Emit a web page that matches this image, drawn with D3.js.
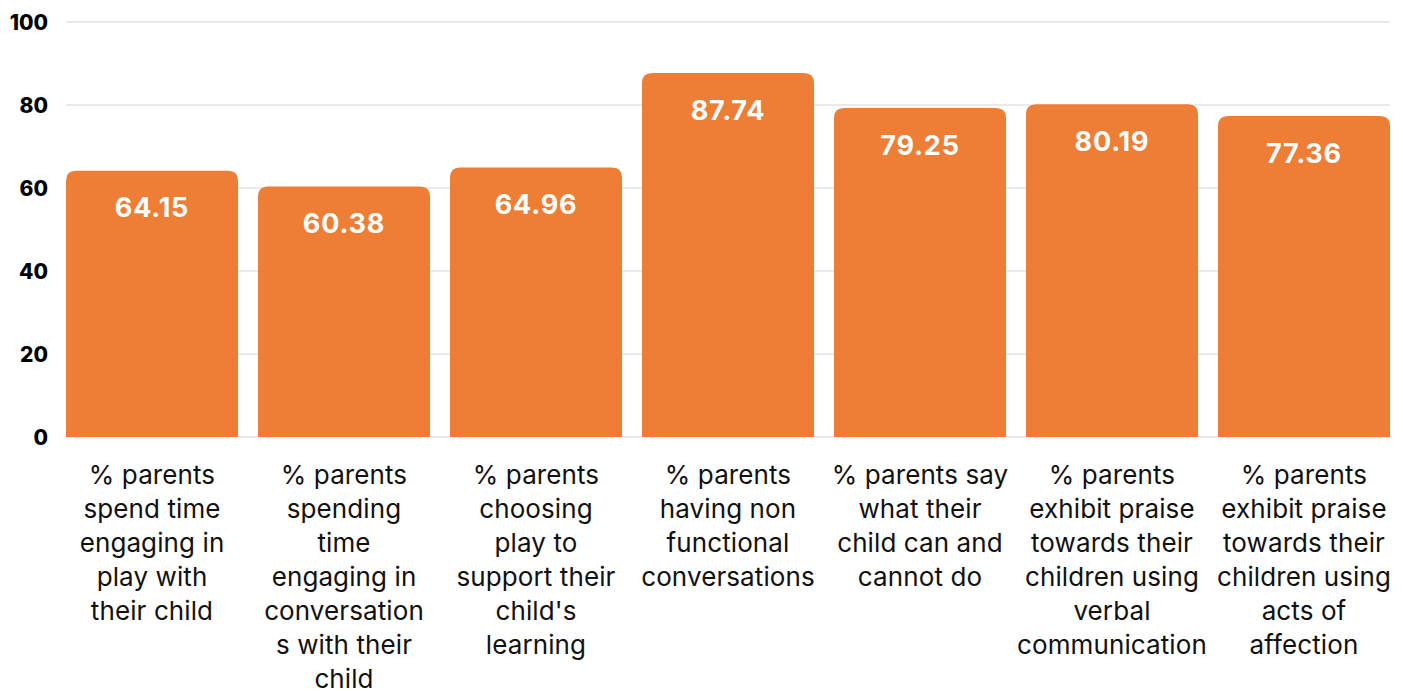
<!DOCTYPE html>
<html>
<head>
<meta charset="utf-8">
<script src="https://cdn.jsdelivr.net/npm/d3@7"></script>
<style>
  html, body { margin: 0; padding: 0; background: #ffffff; }
  svg { display: block; font-family: Inter, "Noto Sans", sans-serif; }
</style>
</head>
<body>
<svg id="chart" width="1403" height="691"></svg>
<script>
// Category labels, already broken into the lines they are shown on
const categories = [
  "% parents\nspend time\nengaging in\nplay with\ntheir child",
  "% parents\nspending\ntime\nengaging in\nconversation\ns with their\nchild",
  "% parents\nchoosing\nplay to\nsupport their\nchild's\nlearning",
  "% parents\nhaving non\nfunctional\nconversations",
  "% parents say\nwhat their\nchild can and\ncannot do",
  "% parents\nexhibit praise\ntowards their\nchildren using\nverbal\ncommunication",
  "% parents\nexhibit praise\ntowards their\nchildren using\nacts of\naffection"
];
const values = [64.15, 60.38, 64.96, 87.74, 79.25, 80.19, 77.36];
const yTicks = [0, 20, 40, 60, 80, 100];

const svg = d3.select("#chart");
const margin = { left: 66, right: 13, top: 22, bottom: 254 };
const W = 1403, H = 691;

const x = d3.scaleBand()
  .domain(categories)
  .range([margin.left, W - margin.right])
  .paddingInner(0.104)
  .paddingOuter(0);

const y = d3.scaleLinear()
  .domain([0, 100])
  .range([H - margin.bottom, margin.top]);

// horizontal gridlines
svg.append("g")
  .selectAll("line")
  .data(yTicks)
  .join("line")
  .attr("x1", margin.left)
  .attr("x2", W - margin.right)
  .attr("y1", d => y(d))
  .attr("y2", d => y(d))
  .attr("stroke", "#d6d6d6")
  .attr("stroke-width", 1.2);

// y tick labels
svg.append("g")
  .selectAll("text")
  .data(yTicks)
  .join("text")
  .attr("x", 48)
  .attr("y", d => y(d))
  .attr("dy", "0.36em")
  .attr("text-anchor", "end")
  .attr("font-size", 21)
  .attr("font-weight", 800)
  .attr("fill", "#000")
  .text(d => d);

// bars with rounded top corners
const r = 10;
function barPath(d, i) {
  const x0 = x(categories[i]);
  const x1 = x0 + x.bandwidth();
  const y0 = y(0);
  const yt = y(d);
  return `M${x0},${y0} L${x0},${yt + r} Q${x0},${yt} ${x0 + r},${yt} ` +
         `L${x1 - r},${yt} Q${x1},${yt} ${x1},${yt + r} L${x1},${y0} Z`;
}

svg.append("g")
  .selectAll("path")
  .data(values)
  .join("path")
  .attr("d", barPath)
  .attr("fill", "#EE7E36");

// value labels inside bars
svg.append("g")
  .selectAll("text")
  .data(values)
  .join("text")
  .attr("x", (d, i) => x(categories[i]) + x.bandwidth() / 2)
  .attr("y", d => y(d) + 37)
  .attr("dy", "0.36em")
  .attr("text-anchor", "middle")
  .attr("font-size", 27)
  .attr("font-weight", 700)
  .attr("letter-spacing", 0.8)
  .attr("fill", "#ffffff")
  .text(d => d.toFixed(2));

// category labels below the axis
const catG = svg.append("g");
categories.forEach(c => {
  const cx = x(c) + x.bandwidth() / 2;
  const t = catG.append("text")
    .attr("x", cx)
    .attr("y", 484)
    .attr("text-anchor", "middle")
    .attr("font-size", 26)
    .attr("letter-spacing", 0.1)
    .attr("fill", "#111");
  c.split("\n").forEach((line, j) => {
    t.append("tspan")
      .attr("x", cx)
      .attr("y", 484 + j * 34)
      .text(line);
  });
});
</script>
</body>
</html>
